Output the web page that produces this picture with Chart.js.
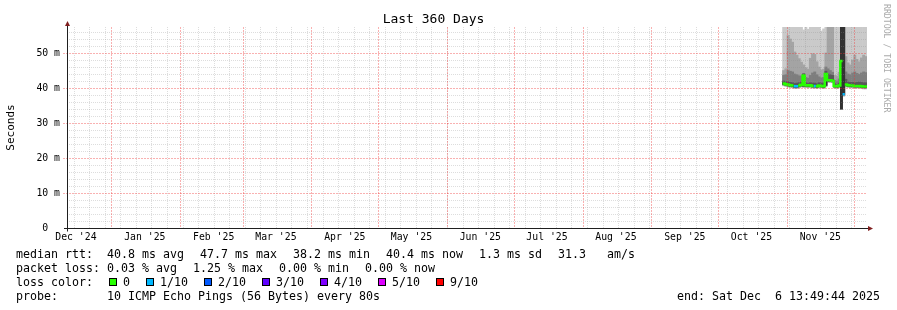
<!DOCTYPE html>
<html>
<head>
<meta charset="utf-8">
<script src="https://cdn.jsdelivr.net/npm/chart.js@4.4.1/dist/chart.umd.min.js"></script>
<style>
  html, body { margin: 0; padding: 0; background: #fff; }
  #wrap { position: relative; width: 897px; height: 310px; overflow: hidden; }
  #chart { position: absolute; left: 0; top: 0; }
  .legend { position: absolute; left: 16px; top: 246.6px; font-family: 'DejaVu Sans Mono', monospace; font-size: 11.63px; line-height: 14.1px; color: #000; white-space: pre; }
  .legend div { height: 14.1px; }
  .legend span { display: inline-block; margin-right: 16px; }
  .legend i { display: inline-block; width: 6px; height: 6px; border: 1px solid #000; margin-right: 6px; }
  #end { position: absolute; left: 677px; top: 288.9px; font-family: 'DejaVu Sans Mono', monospace; font-size: 11.63px; line-height: 14.1px; white-space: pre; }
  #mark { position: absolute; left: 882px; top: 4px; writing-mode: vertical-rl; font-family: 'DejaVu Sans Mono', monospace; font-size: 8.2px; line-height: 10px; color: #aaa; white-space: pre; }
</style>
</head>
<body>
<div id="wrap">
  <canvas id="chart" width="897" height="310"></canvas>
  <div class="legend" id="legend"></div>
  <div id="end">end: Sat Dec  6 13:49:44 2025</div>
  <div id="mark">RRDTOOL / TOBI OETIKER</div>
</div>
<script>
// day of 2025 (0 = Jan 1), centre of each daily step
const days = [302.5,303.5,304.5,305.5,306.5,307.5,308.5,309.5,310.5,311.5,312.5,313.5,314.5,315.5,316.5,317.5,318.5,319.5,320.5,321.5,
  322.5,323.5,324.5,325.5,326.5,327.5,328.5,329.5,330.5,331.5,332.5,333.5,334.5,335.5,336.5,337.5,338.5,339.5];

// median rtt (ms) and lost pings out of 10
const median = [41.3,41.1,40.9,40.8,40.7,40.5,40.5,40.7,40.9,43.6,40.8,40.7,40.8,40.6,40.6,40.5,40.7,40.6,40.5,44.0,
  42.2,42.2,42.1,40.6,40.5,40.7,47.7,38.2,41.0,40.8,40.7,40.7,40.6,40.6,40.6,40.5,40.4,40.4];
const lossCount = [0,0,0,0,0,1,1,0,0,0,0,0,0,0,1,0,0,0,0,0,0,0,0,0,0,0,0,1,0,0,0,0,0,0,0,0,0,0];

// sorted ping rtts (ms), rtt1 fastest .. rtt10 slowest
const rtt1 = [40.6,40.4,40.2,40.1,40.0,39.8,39.8,40.0,40.2,40.1,40.1,40.0,40.1,39.9,39.9,39.8,40.0,39.9,39.8,40.3,
  41.6,41.6,41.5,39.9,39.8,40.0,34.0,37.6,40.3,40.1,40.0,40.0,39.9,39.9,39.9,39.8,39.7,39.7];
const rtt2 = [40.8,40.6,40.4,40.3,40.2,40.0,40.0,40.2,40.4,40.3,40.3,40.2,40.3,40.1,40.1,40.0,40.2,40.1,40.0,40.5,
  41.7,41.7,41.6,40.1,40.0,40.2,34.0,37.8,40.5,40.3,40.2,40.2,40.1,40.1,40.1,40.0,39.9,39.9];
const rtt3 = [40.9,40.7,40.5,40.4,40.3,40.1,40.1,40.3,40.5,40.4,40.4,40.3,40.4,40.2,40.2,40.1,40.3,40.2,40.1,40.6,
  41.8,41.8,41.7,40.2,40.1,40.3,34.0,38.0,40.6,40.4,40.3,40.3,40.2,40.2,40.2,40.1,40.0,40.0];
const rtt4 = [41.0,40.8,40.6,40.5,40.4,40.2,40.2,40.4,40.6,40.5,40.5,40.4,40.5,40.3,40.3,40.2,40.4,40.3,40.2,40.7,
  41.9,41.9,41.8,40.3,40.2,40.4,34.0,38.1,40.7,40.5,40.4,40.4,40.3,40.3,40.3,40.2,40.1,40.1];
const rtt5 = [41.1,40.9,40.7,40.6,40.5,40.3,40.3,40.5,40.7,40.6,40.6,40.5,40.6,40.4,40.4,40.3,40.5,40.4,40.3,40.8,
  42.0,42.0,41.9,40.4,40.3,40.5,34.0,38.2,40.8,40.6,40.5,40.5,40.4,40.4,40.4,40.3,40.2,40.2];
const rtt6 = [41.5,41.3,41.1,41.0,40.9,40.7,40.7,40.9,41.1,43.8,41.0,40.9,41.0,40.8,40.8,40.7,40.9,40.8,40.7,44.2,
  42.4,42.4,42.3,40.8,40.7,40.9,62,62,41.2,41.0,40.9,40.9,40.8,40.8,40.8,40.7,40.6,40.6];
const rtt7 = [42.0,41.8,41.8,41.6,41.5,41.3,41.4,41.5,41.7,44.0,41.5,41.3,41.5,41.4,41.4,41.2,41.5,41.4,41.4,44.8,
  44.0,43.8,43.6,41.2,41.0,41.4,62,62,42.5,41.7,41.6,41.6,41.5,41.6,41.7,41.6,41.5,41.5];
const rtt8 = [43.6,43.8,45.0,44.8,44.6,44.0,43.8,43.5,43.4,44.2,43.0,42.8,43.6,44.3,44.6,43.8,43.2,42.9,43.0,46.0,
  45.5,45.0,44.5,42.2,42.0,42.6,62,62,44.6,44.0,43.8,44.3,44.6,44.2,43.9,44.3,44.6,44.4];
const rtt9 = [45.0,45.5,55.0,54.0,53.1,50.3,49.4,48.4,47.4,46.6,45.8,45.4,48.5,49.8,49.6,47.5,46.0,45.2,45.4,50.0,
  62,62,62,43.6,43.4,44.5,62,62,49.0,47.2,46.6,48.0,49.4,48.2,47.5,48.6,49.4,49.0];
const rtt10 = [62,62,62,62,62,62,62,62,62,56.6,62,56.8,62,62,62,62,62,56.3,56.9,62,
  62,62,62,62,62,62,62,62,62,62,62,62,62,62,62,62,62,62];

const yTicks = [0, 10, 20, 30, 40, 50];
const yTickLabels = ['0  ', '10 m', '20 m', '30 m', '40 m', '50 m'];
const monthStarts = [0, 31, 59, 90, 120, 151, 181, 212, 243, 273, 304, 334];
const monthLabelDays = [-16, 15, 46, 74, 105, 135, 166, 196, 227, 258, 288, 319];
const monthLabels = ["Dec '24", "Jan '25", "Feb '25", "Mar '25", "Apr '25", "May '25", "Jun '25", "Jul '25", "Aug '25", "Sep '25", "Oct '25", "Nov '25"];

const lossLabels = ['0', '1/10', '2/10', '3/10', '4/10', '5/10', '9/10'];
const lossColors = ['#26ff00', '#00b8ff', '#0059ff', '#5e00ff', '#7e00ff', '#dd00ff', '#ff0000'];
const smokeColors = ['#cacaca', '#a4a4a4', '#7e7e7e', '#585858', '#323232'];

const statLines = [
  ['median rtt:  40.8 ms avg', '47.7 ms max', '38.2 ms min', '40.4 ms now', '1.3 ms sd', '31.3   am/s'],
  ['packet loss: 0.03 % avg', '1.25 % max', '0.00 % min', '0.00 % now'],
];
const probeText = 'probe:       10 ICMP Echo Pings (56 Bytes) every 80s';

const FONT = "'DejaVu Sans Mono', monospace";
const X_MIN = -20, X_MAX = 340, Y_MAX = 57.43;

// legend block under the graph
const legend = document.getElementById('legend');
statLines.forEach(items => {
  const row = document.createElement('div');
  items.forEach(t => { const s = document.createElement('span'); s.textContent = t; row.appendChild(s); });
  legend.appendChild(row);
});
const lossRow = document.createElement('div');
const head = document.createElement('span');
head.textContent = 'loss color:';
lossRow.appendChild(head);
lossLabels.forEach((l, i) => {
  const s = document.createElement('span');
  const b = document.createElement('i');
  b.style.background = lossColors[i];
  s.appendChild(b);
  s.appendChild(document.createTextNode(l));
  lossRow.appendChild(s);
});
legend.appendChild(lossRow);
const probeRow = document.createElement('div');
probeRow.textContent = probeText;
legend.appendChild(probeRow);

const lossIndex = n => Math.min(n, lossColors.length - 1);

// smoke: nested bands between the i-th fastest and i-th slowest ping
const bands = [[rtt1, rtt10], [rtt2, rtt9], [rtt3, rtt8], [rtt4, rtt7], [rtt5, rtt6]];
const smokeSets = bands.map(([lo, hi], i) => ({
  type: 'bar',
  data: days.map((d, k) => ({ x: d, y: [lo[k], hi[k]] })),
  backgroundColor: smokeColors[i],
  borderWidth: 0,
  barPercentage: 1,
  categoryPercentage: 1,
  grouped: false,
  order: 5 - i,
}));

// median: one line per loss colour, like smokeping does, so colours don't join
const medianSets = lossColors.map((col, ci) => ({
  type: 'line',
  data: days.flatMap((d, k) => lossIndex(lossCount[k]) === ci
    ? [{ x: d - 0.5, y: median[k] }, { x: d + 0.5, y: median[k] }]
    : [{ x: d, y: null }]),
  borderColor: col,
  borderWidth: 2.5,
  borderCapStyle: 'butt',
  borderJoinStyle: 'miter',
  pointRadius: 0,
  spanGaps: false,
  order: 0,
}));

// rrdtool style grid, drawn over the graph, then axes and arrows
const rrdGrid = {
  id: 'rrdGrid',
  afterDatasetsDraw(chart) {
    const { ctx, chartArea: a, scales: { x, y } } = chart;
    const px = v => Math.round(x.getPixelForValue(v)) + 0.5;
    const py = v => Math.round(y.getPixelForValue(v)) + 0.5;
    ctx.save();
    ctx.lineWidth = 1;
    ctx.setLineDash([1, 1]);

    ctx.strokeStyle = 'rgba(143,143,143,0.3)';
    ctx.beginPath();
    for (let v = 2; v < Y_MAX; v += 2) {
      if (v % 10 === 0) continue;
      ctx.moveTo(a.left, py(v)); ctx.lineTo(a.right, py(v));
    }
    for (let d = -17; d < X_MAX; d += 7) {
      ctx.moveTo(px(d), a.top); ctx.lineTo(px(d), a.bottom);
    }
    ctx.stroke();

    ctx.strokeStyle = 'rgba(240,50,50,0.38)';
    ctx.setLineDash([2, 1]);
    ctx.beginPath();
    for (let v = 10; v < Y_MAX; v += 10) {
      ctx.moveTo(a.left - 4, py(v)); ctx.lineTo(a.right, py(v));
    }
    monthStarts.forEach(d => { ctx.moveTo(px(d), a.top); ctx.lineTo(px(d), a.bottom); });
    ctx.stroke();

    ctx.setLineDash([]);
    ctx.strokeStyle = '#1f1f1f';
    const x0 = Math.round(a.left) + 0.5, y0 = Math.round(a.bottom) + 0.5;
    ctx.beginPath();
    ctx.moveTo(a.left - 3, y0); ctx.lineTo(a.right + 1, y0);
    ctx.moveTo(x0, y0 + 3); ctx.lineTo(x0, a.top - 5);
    ctx.stroke();

    ctx.fillStyle = '#801f1f';
    ctx.beginPath();
    ctx.moveTo(x0, a.top - 6); ctx.lineTo(x0 - 2.5, a.top - 1); ctx.lineTo(x0 + 2.5, a.top - 1);
    ctx.closePath(); ctx.fill();
    ctx.beginPath();
    ctx.moveTo(a.right + 6, y0); ctx.lineTo(a.right + 1, y0 - 2.5); ctx.lineTo(a.right + 1, y0 + 2.5);
    ctx.closePath(); ctx.fill();
    ctx.restore();
  }
};

new Chart(document.getElementById('chart'), {
  type: 'bar',
  data: { datasets: [...smokeSets, ...medianSets] },
  plugins: [rrdGrid],
  options: {
    responsive: false,
    devicePixelRatio: 1,
    animation: false,
    layout: { padding: { left: 0, right: 30, top: 0, bottom: 64 } },
    plugins: {
      legend: { display: false },
      tooltip: { enabled: false },
      title: {
        display: true,
        text: 'Last 360 Days',
        color: '#000',
        font: { family: FONT, size: 13, weight: 'normal', lineHeight: 1 },
        padding: { top: 13.5, bottom: 0.5 },
      },
    },
    scales: {
      x: {
        type: 'linear',
        min: X_MIN,
        max: X_MAX,
        offset: false,
        grid: { display: false, drawTicks: false },
        border: { display: false },
        afterBuildTicks: s => { s.ticks = monthLabelDays.map(v => ({ value: v })); },
        afterFit: s => { s.height = 18; },
        ticks: {
          autoSkip: false,
          maxRotation: 0,
          padding: 3.5,
          color: '#000',
          font: { family: FONT, size: 9.8 },
          callback: (v, i) => monthLabels[i],
        },
      },
      y: {
        type: 'linear',
        min: 0,
        max: Y_MAX,
        grid: { display: false, drawTicks: false },
        border: { display: false },
        afterBuildTicks: s => { s.ticks = yTicks.map(v => ({ value: v })); },
        afterFit: s => { s.width = 67; },
        ticks: {
          padding: 7,
          color: '#000',
          font: { family: FONT, size: 9.8 },
          callback: (v, i) => yTickLabels[i],
        },
        title: {
          display: true,
          text: 'Seconds',
          color: '#000',
          font: { family: FONT, size: 11 },
          padding: { top: 4.5, bottom: 0 },
        },
      },
    },
  },
});
</script>
</body>
</html>
